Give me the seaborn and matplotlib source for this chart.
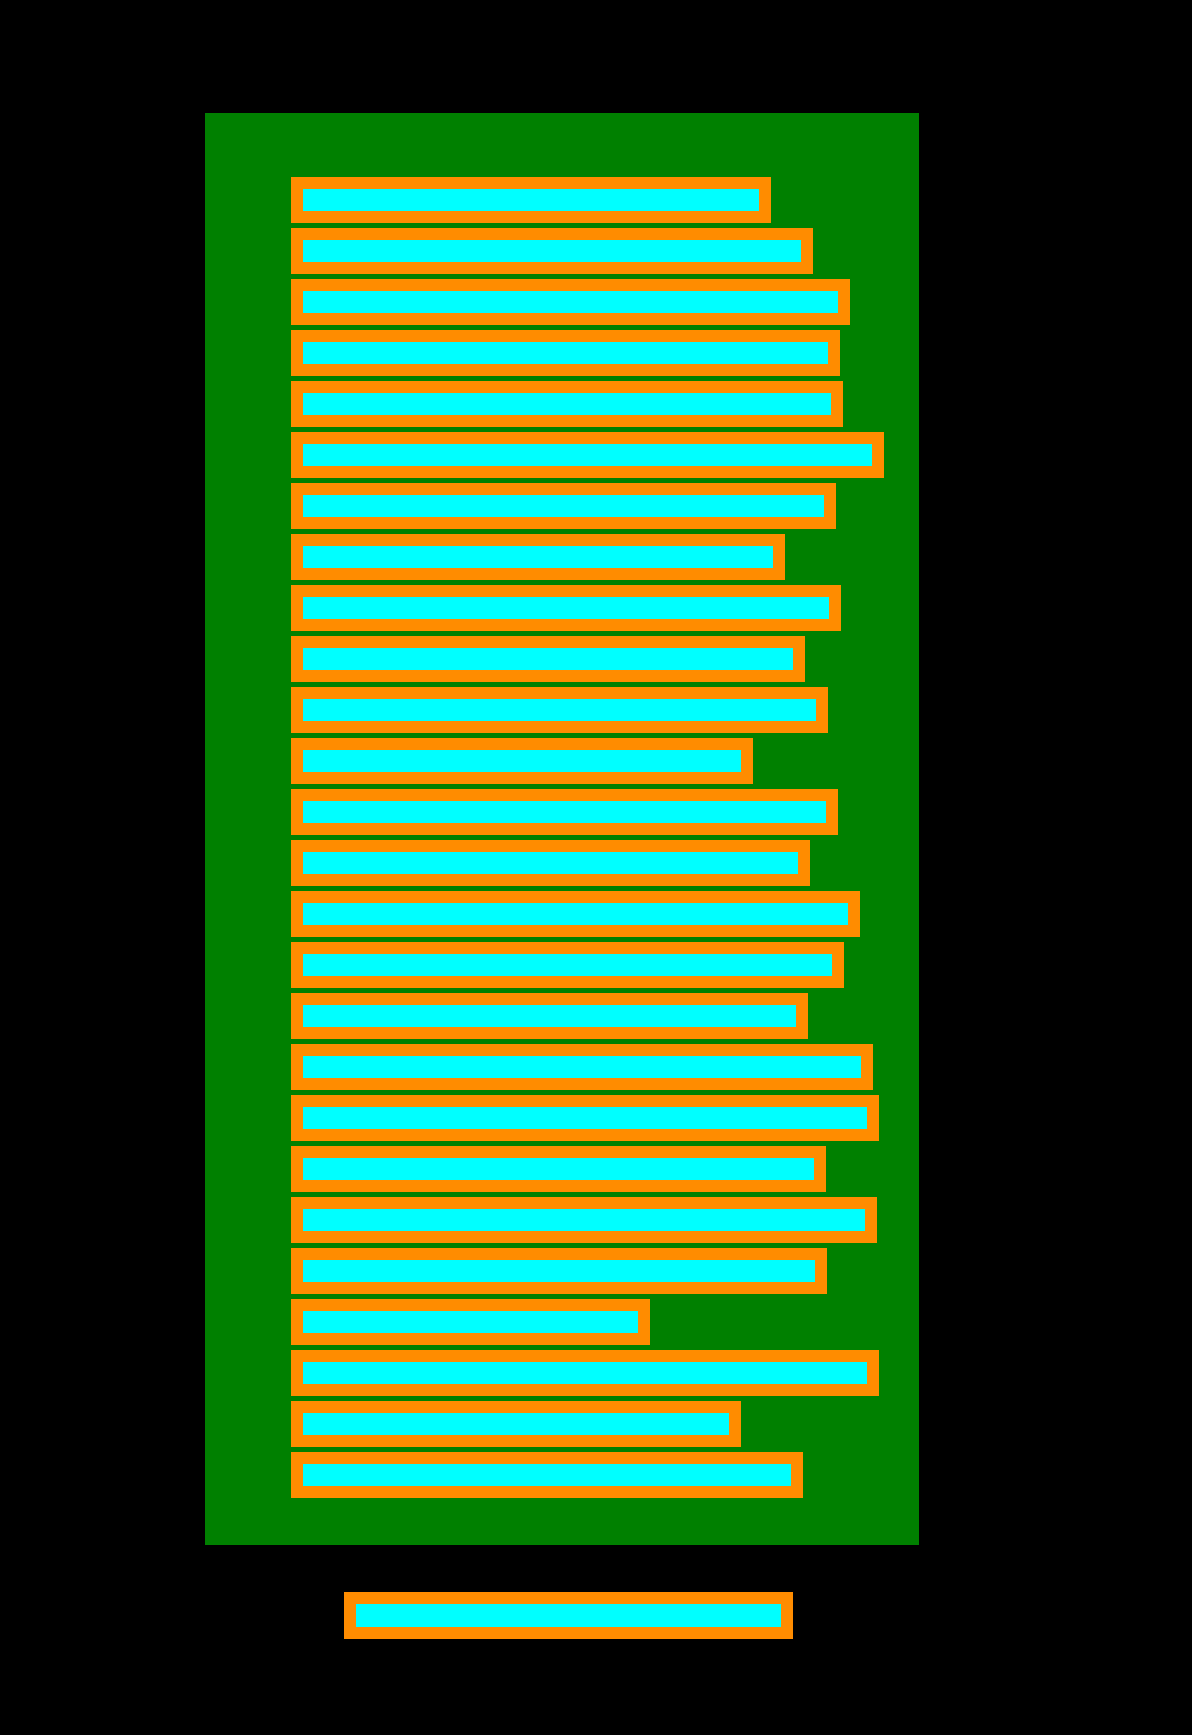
import matplotlib
matplotlib.use("Agg")
import matplotlib.pyplot as plt
import seaborn as sns
import pandas as pd

# bar lengths, top to bottom (arbitrary units)
categories = [f"r{i:02d}" for i in range(1, 27)]
values = [
    78.0, 85.0, 91.2, 89.5, 90.0, 96.8, 88.8, 80.3, 89.7, 83.7,
    87.5, 75.0, 89.2, 84.5, 92.8, 90.2, 84.2, 95.0, 96.0, 87.2,
    95.7, 87.3, 57.8, 96.0, 73.0, 83.3,
]

BG = "black"
PANEL = "green"
FILL = "cyan"
EDGE = "darkorange"

df = pd.DataFrame({"category": categories, "value": values})

fig = plt.figure(figsize=(11.92, 17.35), dpi=100, facecolor=BG)
ax = fig.add_axes([0.172, 0.1095, 0.599, 0.8254])
ax.set_facecolor(PANEL)

sns.barplot(
    data=df,
    x="value",
    y="category",
    orient="h",
    color=FILL,
    saturation=1,
    edgecolor=EDGE,
    linewidth=8.64,
    width=0.667,
    ax=ax,
)

ax.set_xlim(-15.33, 103.67)
ax.set_ylim(26.373, -1.706)
ax.set_xlabel("")
ax.set_ylabel("")
ax.set_xticks([])
ax.set_yticks([])
for s in ax.spines.values():
    s.set_visible(False)

# legend-like swatch below the panel, no visible label
ax.legend(
    handles=[ax.patches[0]],
    labels=[""],
    loc="upper left",
    bbox_to_anchor=(350 / 1192, 1 - 1598 / 1735),
    bbox_transform=fig.transFigure,
    frameon=False,
    borderpad=0,
    borderaxespad=0,
    handletextpad=0,
    fontsize=10,
    handlelength=31.46,
    handleheight=3.5,
)

fig.savefig("out.png", dpi=100, facecolor=BG)
plt.close(fig)
